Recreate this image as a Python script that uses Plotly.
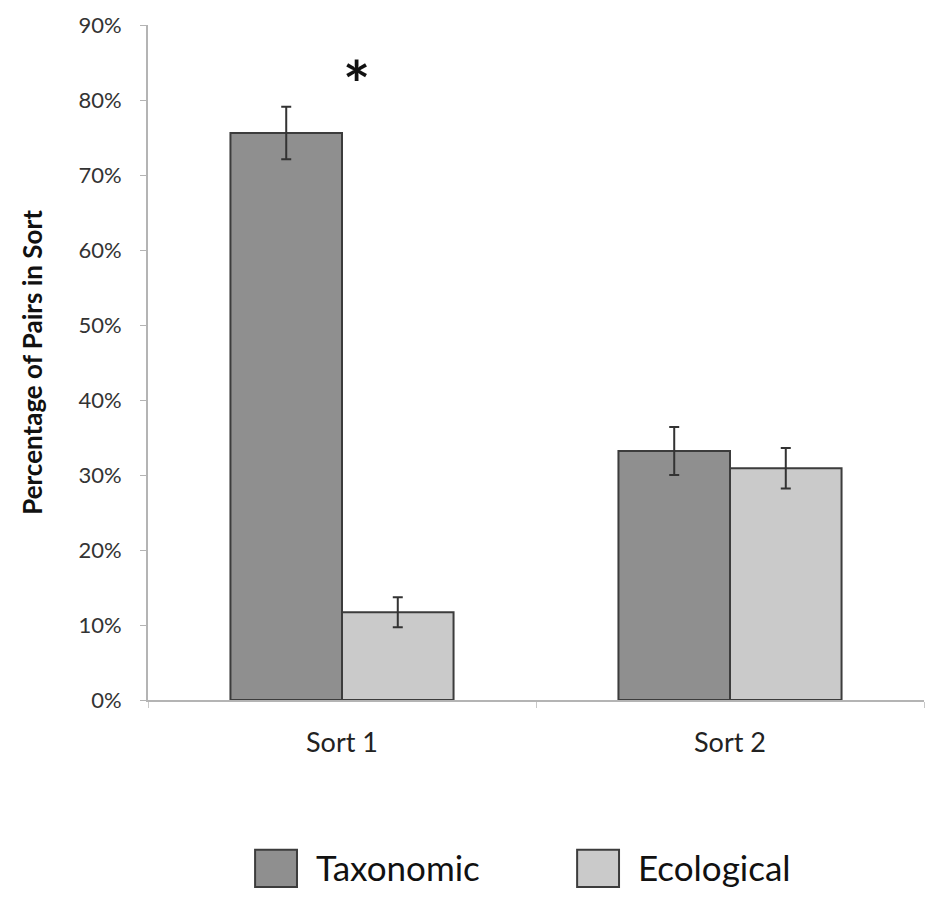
import plotly.graph_objects as go

sorts = ["Sort 1", "Sort 2"]
series = ["Taxonomic", "Ecological"]
taxonomic = [0.756, 0.332]
ecological = [0.117, 0.309]
taxonomic_err = [0.035, 0.032]
ecological_err = [0.020, 0.027]
colors = ["#8f8f8f", "#cacaca"]
tick_vals = [0, 0.1, 0.2, 0.3, 0.4, 0.5, 0.6, 0.7, 0.8, 0.9]
tick_text = ["0%", "10%", "20%", "30%", "40%", "50%", "60%", "70%", "80%", "90%"]

font = "Lato"

fig = go.Figure()

for name, vals, errs, col in zip(series, [taxonomic, ecological], [taxonomic_err, ecological_err], colors):
    fig.add_trace(
        go.Bar(
            x=sorts,
            y=vals,
            name=name,
            marker=dict(color=col, line=dict(color="#3c3c3c", width=2)),
            error_y=dict(type="data", array=errs, color="#333333", thickness=2, width=5),
        )
    )

fig.update_xaxes(
    showgrid=False,
    zeroline=False,
    showline=True,
    linecolor="#b4b4b4",
    linewidth=2,
    ticks="outside",
    tickson="boundaries",
    ticklen=6,
    tickcolor="#c8c8c8",
    tickfont=dict(family=font, size=27, color="#222222"),
    ticklabelstandoff=18,
    range=[-0.5, 1.5],
)
fig.update_yaxes(
    range=[0, 0.9],
    tickvals=tick_vals,
    ticktext=tick_text,
    showgrid=False,
    zeroline=False,
    showline=True,
    linecolor="#b4b4b4",
    linewidth=2,
    ticks="outside",
    ticklen=6,
    tickcolor="#b4b4b4",
    tickfont=dict(family=font, size=22, color="#333333"),
    ticklabelstandoff=14,
    title=dict(
        text="<b>Percentage of Pairs in Sort</b>",
        font=dict(family=font, size=26, color="#111111"),
        standoff=28,
    ),
)

# significance marker
fig.add_annotation(
    x=0, y=0.822, xref="x", yref="y", xshift=14, yanchor="middle",
    text="<b>*</b>", showarrow=False,
    font=dict(family=font, size=64, color="#111111"),
)

# legend drawn by hand to get large swatches
legend_x = [0.138, 0.553]
for name, col, lx in zip(series, colors, legend_x):
    fig.add_shape(
        type="rect", xref="paper", yref="paper",
        x0=lx, x1=lx + 0.054, y0=-0.277, y1=-0.222,
        fillcolor=col, line=dict(color="#3c3c3c", width=2),
    )
    fig.add_annotation(
        x=lx + 0.076, y=-0.247, xref="paper", yref="paper",
        xanchor="left", yanchor="middle", text=name, showarrow=False,
        font=dict(family=font, size=35, color="#111111"),
    )

fig.update_layout(
    barmode="group",
    bargap=0.425,
    bargroupgap=0,
    showlegend=False,
    plot_bgcolor="white",
    paper_bgcolor="white",
    margin=dict(l=140, r=25, t=17, b=213, autoexpand=False),
    width=941,
    height=905,
)
fig.write_html("out.html")
